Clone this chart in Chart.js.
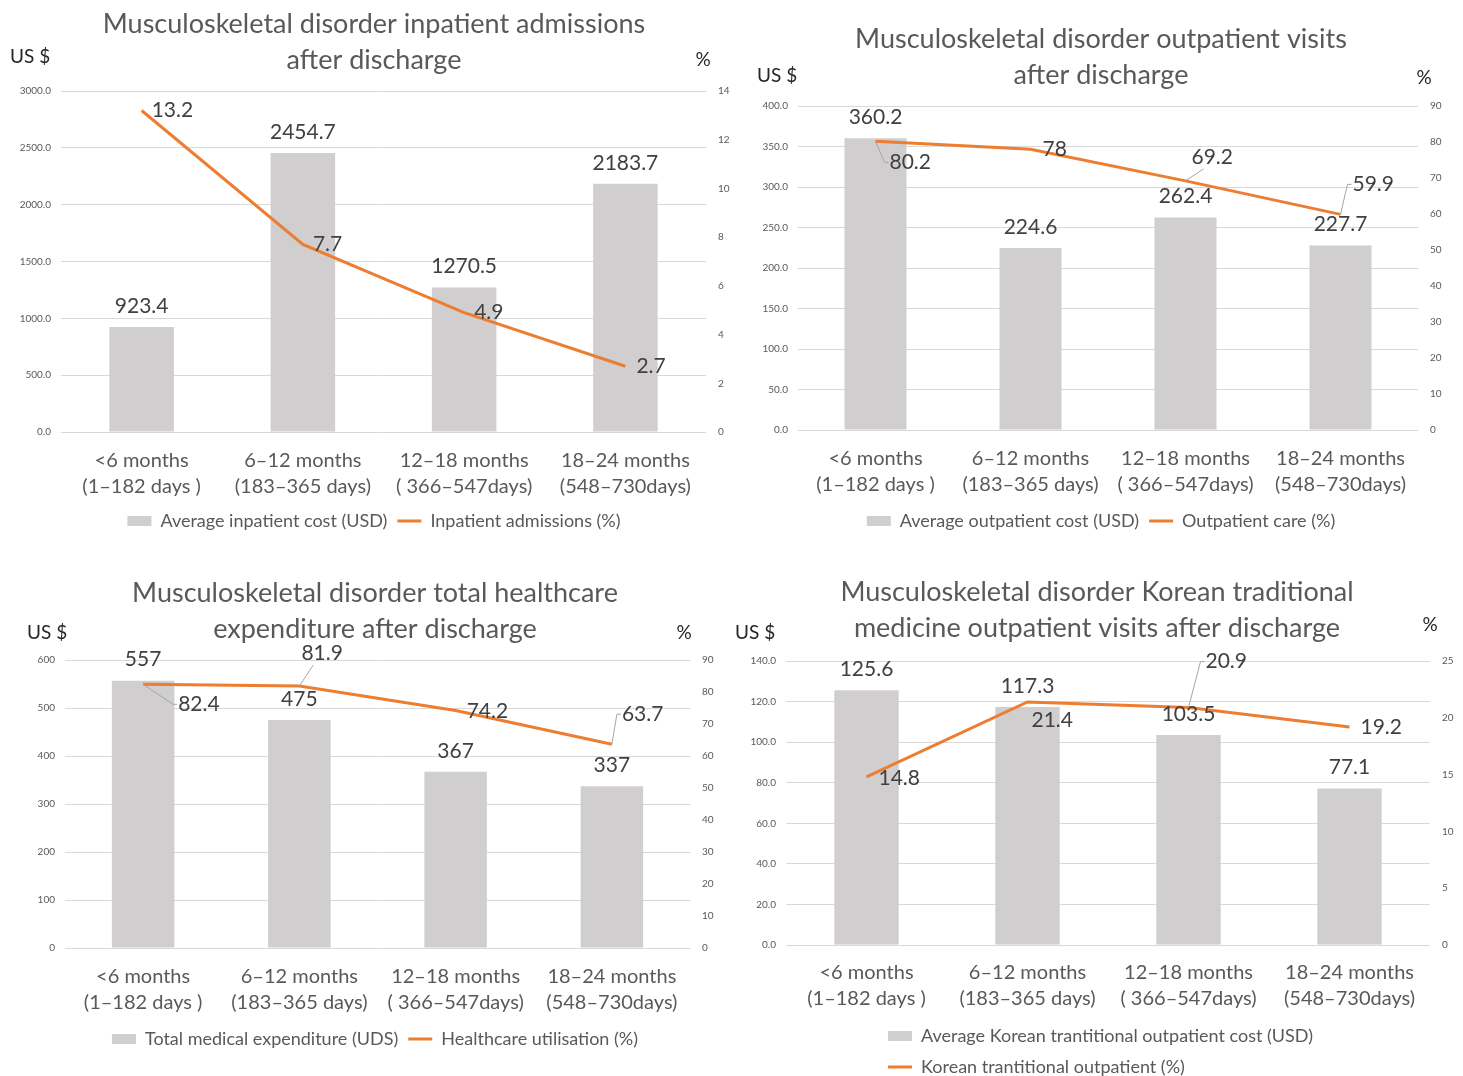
<!DOCTYPE html>
<html>
<head>
<meta charset="utf-8">
<title>Musculoskeletal disorder utilisation after discharge</title>
<script src="https://cdn.jsdelivr.net/npm/chart.js@4.4.1/dist/chart.umd.min.js"></script>
<style>
  html, body { margin: 0; padding: 0; background: #fff; overflow: hidden; }
  #page { position: relative; width: 1463px; height: 1076px; }
  canvas { position: absolute; }
</style>
</head>
<body>
<div id="page">
  <canvas id="inpatientChart" width="731" height="540" style="left:0;top:0"></canvas>
  <canvas id="outpatientChart" width="732" height="540" style="left:731px;top:0"></canvas>
  <canvas id="totalChart" width="731" height="536" style="left:0;top:540px"></canvas>
  <canvas id="kmChart" width="732" height="546" style="left:731px;top:540px"></canvas>
</div>
<script>
// Periods after discharge (shared by all four panels)
const periodLabels = [
    ['<6 months', '(1–182 days )'],
    ['6–12 months', '(183–365 days)'],
    ['12–18 months', '( 366–547days)'],
    ['18–24 months', '(548–730days)']
];

// Inpatient admissions
const inpatientCost = [923.4, 2454.7, 1270.5, 2183.7];
const inpatientRate = [13.2, 7.7, 4.9, 2.7];

// Outpatient visits
const outpatientCost = [360.2, 224.6, 262.4, 227.7];
const outpatientRate = [80.2, 78, 69.2, 59.9];

// Total healthcare expenditure
const totalCost = [557, 475, 367, 337];
const totalRate = [82.4, 81.9, 74.2, 63.7];

// Korean traditional medicine outpatient visits
const kmCost = [125.6, 117.3, 103.5, 77.1];
const kmRate = [14.8, 21.4, 20.9, 19.2];

// Axis ranges / tick steps [max, step]
const inpatientCostAxis = [3000, 500];
const inpatientRateAxis = [14, 2];
const outpatientCostAxis = [400, 50];
const outpatientRateAxis = [90, 10];
const totalCostAxis = [600, 100];
const totalRateAxis = [90, 10];
const kmCostAxis = [140, 20];
const kmRateAxis = [25, 5];

const FONT = 'Lato, "Open Sans", sans-serif';
const BAR_GREY = '#D0CECE';
const ORANGE = '#ED7D31';
const TEXT = '#595959';

Chart.defaults.font.family = FONT;
Chart.defaults.color = TEXT;

// Draws the value labels over bars and next to line points (with leader lines)
const valueLabels = {
    id: 'valueLabels',
    afterDatasetsDraw(chart) {
        const ctx = chart.ctx;
        ctx.save();
        ctx.font = '21px ' + FONT;
        ctx.textBaseline = 'middle';
        chart.data.datasets.forEach((ds, di) => {
            const meta = chart.getDatasetMeta(di);
            meta.data.forEach((el, i) => {
                const text = String(ds.data[i]);
                ctx.fillStyle = '#404040';
                if (ds.type === 'bar') {
                    ctx.textAlign = 'center';
                    ctx.fillText(text, el.x, el.y - 21);
                    return;
                }
                const p = ds.labelPlacement[i];
                const lx = el.x + p.dx;
                const ly = el.y + p.dy;
                if (p.leader) {
                    ctx.strokeStyle = '#A6A6A6';
                    ctx.lineWidth = 1;
                    ctx.beginPath();
                    ctx.moveTo(el.x, el.y);
                    if (p.leader === 'side') {
                        ctx.lineTo(lx - 5, ly);
                        ctx.lineTo(lx - 1, ly);
                    } else {
                        ctx.lineTo(lx + 12, ly + 12);
                    }
                    ctx.stroke();
                }
                ctx.textAlign = 'left';
                ctx.fillText(text, lx, ly);
            });
        });
        ctx.restore();
    }
};

// "US $" and "%" captions above the two value axes
const unitLabels = {
    id: 'unitLabels',
    afterDraw(chart, args, opts) {
        const ctx = chart.ctx;
        ctx.save();
        ctx.font = '19px ' + FONT;
        ctx.fillStyle = '#262626';
        ctx.textBaseline = 'middle';
        ctx.textAlign = 'left';
        ctx.fillText('US $', opts.leftX, opts.leftY);
        ctx.textAlign = 'center';
        ctx.fillText('%', opts.rightX, opts.rightY);
        ctx.restore();
    }
};

// Lets a wrapped legend start at a fixed x instead of centring each row
const legendShift = {
    id: 'legendShift',
    afterLayout(chart, args, opts) {
        if (opts && opts.left != null && chart.legend) {
            chart.legend.left = opts.left;
        }
    }
};

const makeChart = (canvasId, cfg) => {
    const ctx = document.getElementById(canvasId).getContext('2d');
    return new Chart(ctx, {
        data: {
            labels: periodLabels,
            datasets: [{
                type: 'bar',
                label: cfg.barLabel,
                data: cfg.cost,
                backgroundColor: BAR_GREY,
                borderWidth: 0,
                barPercentage: 0.4,
                categoryPercentage: 1,
                pointStyle: 'rect',
                yAxisID: 'y',
                order: 1
            }, {
                type: 'line',
                label: cfg.lineLabel,
                data: cfg.rate,
                borderColor: ORANGE,
                backgroundColor: ORANGE,
                borderWidth: 3,
                pointRadius: 0,
                pointStyle: 'line',
                tension: 0,
                yAxisID: 'y1',
                order: 0,
                labelPlacement: cfg.placement
            }]
        },
        options: {
            responsive: false,
            animation: false,
            layout: { padding: cfg.padding },
            plugins: {
                title: {
                    display: true,
                    text: cfg.title,
                    color: TEXT,
                    font: { size: 27, weight: 'normal', lineHeight: 36 / 27 },
                    padding: cfg.titlePadding
                },
                legend: {
                    position: 'bottom',
                    align: cfg.legendAlign || 'center',
                    labels: {
                        usePointStyle: true,
                        pointStyleWidth: 24,
                        boxHeight: 10,
                        padding: cfg.legendPadding,
                        color: TEXT,
                        font: { size: 18 },
                        sort: (a, b) => a.datasetIndex - b.datasetIndex
                    }
                },
                tooltip: { enabled: false },
                unitLabels: cfg.units,
                legendShift: { left: cfg.legendLeft }
            },
            scales: {
                x: {
                    grid: { display: false, drawTicks: false },
                    border: { display: false },
                    ticks: {
                        color: TEXT,
                        font: { size: 20, lineHeight: 1.3 },
                        padding: cfg.xPad,
                        autoSkip: false,
                        maxRotation: 0
                    },
                    afterFit(s) { s.height = cfg.xHeight; }
                },
                y: {
                    position: 'left',
                    min: 0,
                    max: cfg.costAxis[0],
                    grid: { color: '#D9D9D9', drawTicks: false },
                    border: { display: false },
                    ticks: {
                        stepSize: cfg.costAxis[1],
                        color: TEXT,
                        font: { size: 10 },
                        padding: 10,
                        callback: v => v.toFixed(cfg.costDecimals)
                    },
                    afterFit(s) { s.width = cfg.leftWidth; }
                },
                y1: {
                    position: 'right',
                    min: 0,
                    max: cfg.rateAxis[0],
                    grid: { display: false, drawTicks: false },
                    border: { display: false },
                    ticks: {
                        stepSize: cfg.rateAxis[1],
                        color: TEXT,
                        font: { size: 10 },
                        padding: 12
                    },
                    afterFit(s) { s.width = cfg.rightWidth; }
                }
            }
        },
        plugins: [valueLabels, unitLabels, legendShift]
    });
};

makeChart('inpatientChart', {
    title: ['Musculoskeletal disorder inpatient admissions', 'after discharge'],
    barLabel: 'Average inpatient cost (USD)',
    lineLabel: 'Inpatient admissions (%)',
    cost: inpatientCost, rate: inpatientRate,
    costAxis: inpatientCostAxis, rateAxis: inpatientRateAxis, costDecimals: 1,
    padding: { left: 17, right: 0, top: 0, bottom: 0 },
    titlePadding: { top: 6, bottom: 13 },
    leftWidth: 44, rightWidth: 25, xHeight: 70, xPad: 16, legendPadding: 10,
    units: { leftX: 10, leftY: 57, rightX: 703, rightY: 60 },
    placement: [{ dx: 10, dy: 0 }, { dx: 10, dy: 0 }, { dx: 10, dy: 0 }, { dx: 11, dy: 0 }]
});

makeChart('outpatientChart', {
    title: ['Musculoskeletal disorder outpatient visits', 'after discharge'],
    barLabel: 'Average outpatient cost (USD)',
    lineLabel: 'Outpatient care (%)',
    cost: outpatientCost, rate: outpatientRate,
    costAxis: outpatientCostAxis, rateAxis: outpatientRateAxis, costDecimals: 1,
    padding: { left: 8, right: 0, top: 0, bottom: 0 },
    titlePadding: { top: 21, bottom: 13 },
    leftWidth: 59, rightWidth: 45, xHeight: 72, xPad: 16, legendPadding: 10,
    units: { leftX: 26, leftY: 76, rightX: 693, rightY: 78 },
    placement: [
        { dx: 14, dy: 21, leader: 'side' },
        { dx: 12, dy: 0 },
        { dx: 6, dy: -24, leader: 'under' },
        { dx: 12, dy: -30, leader: 'side' }
    ]
});

makeChart('totalChart', {
    title: ['Musculoskeletal disorder total healthcare', 'expenditure after discharge'],
    barLabel: 'Total medical expenditure (UDS)',
    lineLabel: 'Healthcare utilisation (%)',
    cost: totalCost, rate: totalRate,
    costAxis: totalCostAxis, rateAxis: totalRateAxis, costDecimals: 0,
    padding: { left: 19, right: 0, top: 0, bottom: 18 },
    titlePadding: { top: 35, bottom: 13 },
    leftWidth: 46, rightWidth: 41, xHeight: 72, xPad: 16, legendPadding: 10,
    units: { leftX: 27, leftY: 93, rightX: 684, rightY: 93 },
    placement: [
        { dx: 35, dy: 20, leader: 'side' },
        { dx: 2, dy: -33, leader: 'under' },
        { dx: 11, dy: 1 },
        { dx: 10, dy: -30, leader: 'side' }
    ]
});

makeChart('kmChart', {
    title: ['Musculoskeletal disorder Korean traditional', 'medicine outpatient visits after discharge'],
    barLabel: 'Average Korean trantitional outpatient cost (USD)',
    lineLabel: 'Korean trantitional outpatient (%)',
    cost: kmCost, rate: kmRate,
    costAxis: kmCostAxis, rateAxis: kmRateAxis, costDecimals: 1,
    padding: { left: 0, right: 0, top: 0, bottom: 0 },
    titlePadding: { top: 34, bottom: 15 },
    leftWidth: 55, rightWidth: 33, xHeight: 69, xPad: 15, legendPadding: 13,
    legendAlign: 'start', legendLeft: 144,
    units: { leftX: 4, leftY: 93, rightX: 699, rightY: 85 },
    placement: [
        { dx: 12, dy: 1 },
        { dx: 4, dy: 18 },
        { dx: 17, dy: -46, leader: 'side' },
        { dx: 11, dy: 0 }
    ]
});
</script>
</body>
</html>
